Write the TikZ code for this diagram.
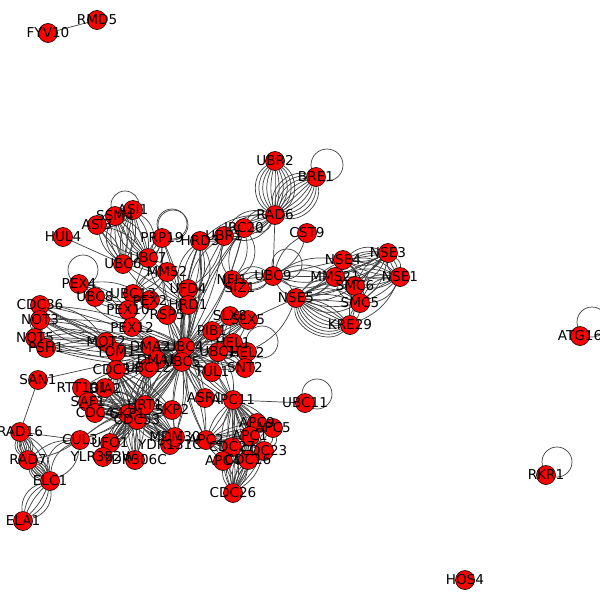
\documentclass[tikz,border=0pt]{standalone}
\usepackage{fontspec}
\setmainfont{DejaVu Sans}
\usetikzlibrary{calc}
\pgfdeclarelayer{background}
\pgfsetlayers{background,main}
\newcommand\bund[3]{\foreach \bb in {#3}{\draw[edge] (#1) to[bend left=\bb] (#2);}}
\newcommand\sloop[4]{\draw[edge] ($(#1)+(#2,#3)$) circle[radius=#4pt];}
\tikzset{
  vtx/.style={circle, fill=red, draw=black, line width=0.6pt, minimum size=19pt, inner sep=0pt},
  lbl/.style={font=\fontsize{13.6}{16}\selectfont, inner sep=0pt, text=black},
  edge/.style={draw=black!75, line width=0.7pt}
}
\begin{document}
\begin{tikzpicture}[x=1pt,y=-1pt]
\useasboundingbox (0,0) rectangle (600,600);
\foreach \n/\x/\y in {
FYV10/48/33, RMD5/97/20, UBR2/275/161, BRE1/316/177, RAD6/275/215, CST9/307/233,
IRC20/244/228, UBR1/224/236, HRD3/200/241, PRP19/162/238, ASI1/133/210, SSM4/115/216,
ASI3/97/225, HUL4/63/237, UBC6/123/264, UBC7/148/258, MMS2/167/272, UFD4/188/289,
HRD1/188/305, NFI1/232/280, SIZ1/240/288, UBC9/273/276, NSE4/343/260, NSE3/388/253,
NSE1/400/277, MMS21/335/277, SMC6/355/286, SMC5/360/303, KRE29/350/325, NSE5/296/298,
PEX4/79/284, UBC8/95/297, UBC13/133/294, PEX2/150/300, PEX10/128/310, PEX12/132/327,
RSP5/167/315, PIB1/212/331, SLX8/230/316, SLX5/248/320, HEL1/233/343, HEL2/247/352,
UBC1/218/352, TUL1/212/372, SNT2/245/368, CDC36/40/305, NOT3/40/320, NOT5/35/338,
PSH1/46/348, MOT2/106/342, TOM1/116/352, DMA2/150/346, UBC4/185/347, DMA1/157/360,
UBC5/182/362, CDC34/116/370, UBC12/148/368, SAN1/38/380, RTT101/82/388, DIA2/105/388,
SAF1/88/402, CDC4/95/413, SKP1/128/414, CDC53/137/420, HRT1/145/405, SKP2/172/410,
CUL3/80/440, UFO1/110/443, YLR352W/103/457, YDR306C/135/460, YDR131C/170/445,
MDM30/175/437, ASR1/205/398, APC11/233/400, UBC11/305/403, APC9/257/423, APC5/273/428,
APC1/250/436, APC2/206/440, CDC27/232/447, CDC23/264/451, APC4/223/461, CDC16/248/460,
CDC26/233/493, RAD16/20/432, RAD7/28/460, ELC1/50/481, ELA1/23/521, ATG16/580/336,
RKR1/546/475, HOS4/465/580}
  {\node[vtx] (\n) at (\x,\y) {};}
\begin{pgfonlayer}{background}
\fill[white] (0,0) rectangle (600,600);
\draw[edge] (FYV10) -- (RMD5);
\bund{UBR2}{RAD6}{-60,-48,-36,-24,-12,0,12,24,36,48,60}
\bund{BRE1}{RAD6}{-60,-48,-36,-24,-12,0,12,24,36,48,60}
\sloop{BRE1}{11}{-12}{16}
\bund{RAD6}{UBR1}{-40,-25,-10,10,25,40}
\bund{RAD6}{IRC20}{-45,-25,25,45}
\bund{RAD6}{HRD3}{-20,0,20}
\bund{RAD6}{UBC9}{0}
\bund{IRC20}{NFI1}{-50,-25,25,50}
\bund{HRD3}{HRD1}{-40,-25,-10,10,25,40}
\bund{UBR1}{UFD4}{-20,20}
\bund{UBR1}{UBC4}{-10,10}
% SMC5/6
\bund{NSE4}{NSE3}{-30,-15,0,15,30}
\bund{NSE4}{NSE1}{-25,-10,10,25}
\bund{NSE3}{NSE1}{-30,-10,10,30}
\bund{NSE3}{MMS21}{-25,0,25}
\bund{NSE3}{SMC6}{-20,0,20}
\bund{NSE3}{SMC5}{-20,20}
\bund{NSE1}{MMS21}{-20,0,20}
\bund{NSE1}{SMC6}{-20,20}
\bund{NSE1}{SMC5}{-30,-10,10,30}
\bund{NSE4}{SMC6}{-30,30}
\bund{NSE4}{SMC5}{-30,30}
\bund{MMS21}{SMC5}{-30,30}
\bund{SMC6}{SMC5}{-40,40}
\bund{NSE5}{KRE29}{-70,-60,-50,-40,-30,-20,-10,0,10,20}
\bund{NSE5}{SMC5}{-30,-15,0,15,30}
\bund{NSE5}{SMC6}{-20,0,20}
\bund{NSE5}{MMS21}{-20,0,20}
\bund{NSE5}{NSE4}{-30,-10,10}
\bund{NSE5}{NSE3}{-20,0}
\bund{KRE29}{SMC5}{-20,20}
\bund{KRE29}{SMC6}{-10,10}
\bund{KRE29}{NSE1}{-20}
\bund{MMS21}{UBC9}{-30,-15,0,15,30}
\bund{NSE4}{UBC9}{-20,0}
\bund{UBC9}{NFI1}{-40,-20,0,20,40}
\bund{UBC9}{SIZ1}{-30,0,30}
\bund{UBC9}{NSE5}{-20,20}
\bund{CST9}{UBC9}{-20,20}
\sloop{UBC9}{14}{-12}{15}
\bund{NSE5}{SLX5}{0}
\bund{NSE5}{HEL2}{20}
% hub
\foreach \e in {DMA1,DMA2,TOM1,MOT2,RSP5,HRD1,UFD4,PIB1,SLX8,SLX5,HEL1,HEL2,SNT2,TUL1,CDC36,NOT3,NOT5,PSH1,APC11,ASR1,APC2,HRT1,HRD3,PRP19,IRC20,PEX12,MDM30,SKP1,CDC53,CDC34,UBC12}{
  \bund{UBC4}{\e}{-12,12}
  \bund{UBC5}{\e}{-10,10}}
\foreach \e in {HEL1,HEL2,SLX8,PIB1,TUL1,SNT2,APC11,SLX5}{\bund{UBC1}{\e}{-20,0,20}}
\bund{SAN1}{UBC4}{0}
\bund{SLX8}{SLX5}{-40,-20,0,20,40}
\sloop{HEL2}{15}{-10}{16}
% SCF
\foreach \e in {CDC4,SAF1,DIA2,UFO1,YLR352W,YDR306C,YDR131C,MDM30,SKP2,HRT1,CDC53}{
  \bund{SKP1}{\e}{-20,-8,8,20}
  \bund{CDC53}{\e}{-15,0,15}
  \bund{HRT1}{\e}{-10,10}}
\bund{HRT1}{CDC53}{-30,-15,15,30}
\foreach \e in {HRT1,CDC53,CDC4,SKP1,MDM30,SKP2}{\bund{CDC34}{\e}{-15,0,15}}
\foreach \e in {HRT1,CDC53,RTT101,SKP1}{\bund{UBC12}{\e}{-15,0,15}}
\bund{RTT101}{HRT1}{-15,15}
\bund{RTT101}{SKP1}{-10,10}
\bund{RTT101}{DIA2}{-20,20}
\bund{CUL3}{HRT1}{-10,10}
\bund{CUL3}{SKP1}{-10,10}
% APC
\foreach \e in {APC2,APC1,APC9,APC5,CDC27,CDC23,APC4,CDC16}{\bund{APC11}{\e}{-15,0,15}}
\foreach \e in {APC1,APC9,APC5,CDC27,CDC23,APC4,CDC16}{\bund{APC2}{\e}{-10,10}}
\foreach \e in {CDC16,APC4,CDC27,CDC23,APC1}{\bund{CDC26}{\e}{-20,-8,8,20}}
\bund{APC9}{APC5}{-20,20}
\bund{APC5}{CDC23}{-40,-20,20,40}
\bund{APC1}{CDC23}{-20,20}
\bund{APC9}{CDC16}{-20,20}
\bund{CDC27}{CDC16}{-20,20}
\draw[edge] (UBC11) -- (APC11);
\sloop{UBC11}{12}{-9}{15}
% left
\bund{RAD16}{RAD7}{-40,-30,-20,-10,0,10,20,30,40}
\bund{RAD7}{ELC1}{-40,-30,-20,-10,0,10,20,30,40}
\bund{RAD16}{ELC1}{-30,-15,0,15,30}
\bund{ELC1}{ELA1}{-40,-25,-10,10,25,40}
\bund{CUL3}{ELC1}{-50,-30,30}
\bund{CUL3}{RAD7}{-20,10}
\bund{CUL3}{RAD16}{0}
\bund{RAD16}{SAN1}{0}
\bund{CDC36}{NOT3}{-30,0,30}
\bund{NOT3}{NOT5}{-30,30}
\bund{CDC36}{NOT5}{-30,30}
\foreach \e in {CDC36,NOT3,NOT5}{\bund{MOT2}{\e}{-25,0,25}}
\bund{PEX4}{PEX10}{-20,20}
\bund{PEX4}{PEX12}{-20,20}
\bund{PEX4}{PEX2}{-20,20}
\bund{PEX2}{PEX10}{-20,20}
\bund{PEX10}{PEX12}{-20,20}
\bund{PEX2}{PEX12}{-20,20}
\bund{UBC8}{PEX10}{0}
\sloop{PEX4}{4}{-14}{15}
\bund{SSM4}{UBC6}{-40,-25,-10,10,25,40}
\bund{SSM4}{UBC7}{-30,-10,10,30}
\bund{ASI1}{UBC6}{-20,0,20}
\bund{ASI1}{UBC7}{-40,-20,0,20,40}
\bund{ASI3}{UBC6}{-20,0,20}
\bund{ASI3}{UBC7}{-20,20}
\bund{ASI1}{ASI3}{-30,30}
\bund{HUL4}{UBC6}{0}
\sloop{SSM4}{10}{-11}{14}
\sloop{PRP19}{10}{-14}{15}
\sloop{PRP19}{11}{-13}{15}
\bund{PRP19}{UBC7}{-20,20}
\bund{PRP19}{UBC13}{-10,10}
\bund{UBC6}{HRD1}{-20,0,20}
\bund{UBC7}{HRD1}{-30,-10,10,30}
\bund{MMS2}{UBC13}{-30,-10,10,30}
\sloop{ATG16}{12}{-14}{15}
\sloop{RKR1}{11}{-13}{15}
\end{pgfonlayer}
\foreach \n in {FYV10,RMD5,UBR2,BRE1,RAD6,CST9,IRC20,UBR1,HRD3,PRP19,ASI1,SSM4,ASI3,HUL4,UBC6,UBC7,MMS2,UFD4,HRD1,NFI1,SIZ1,UBC9,NSE4,NSE3,NSE1,MMS21,SMC6,SMC5,KRE29,NSE5,PEX4,UBC8,UBC13,PEX2,PEX10,PEX12,RSP5,PIB1,SLX8,SLX5,HEL1,HEL2,UBC1,TUL1,SNT2,CDC36,NOT3,NOT5,PSH1,MOT2,TOM1,DMA2,UBC4,DMA1,UBC5,CDC34,UBC12,SAN1,RTT101,DIA2,SAF1,CDC4,SKP1,CDC53,HRT1,SKP2,CUL3,UFO1,YLR352W,YDR306C,YDR131C,MDM30,ASR1,APC11,UBC11,APC9,APC5,APC1,APC2,CDC27,CDC23,APC4,CDC16,CDC26,RAD16,RAD7,ELC1,ELA1,ATG16,RKR1,HOS4}
  {\node[lbl] (L\n) at (\n) {\n};}
\end{tikzpicture}
\end{document}
